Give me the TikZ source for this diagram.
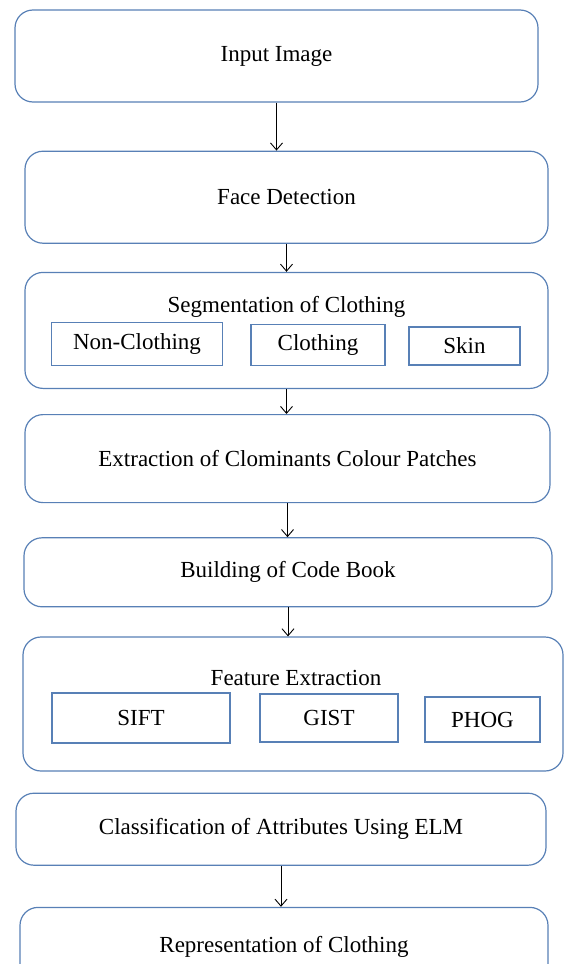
\documentclass[tikz,border=0pt]{standalone}
\usepackage{fontspec}
\setmainfont{Liberation Serif}
\usetikzlibrary{positioning,arrows.meta}
\definecolor{boxblue}{RGB}{88,128,182}

\begin{document}
\begin{tikzpicture}[x=1pt,y=-1pt,
    stage/.style={draw=boxblue,rounded corners=18pt,line width=1.2pt,inner sep=0pt,font=\fontsize{23}{26}\selectfont},
    part/.style={draw=boxblue,line width=1.2pt,inner sep=0pt,font=\fontsize{23}{26}\selectfont},
    caption/.style={font=\fontsize{23}{26}\selectfont},
    link/.style={-{Straight Barb[length=7pt,width=12pt]},line width=0.9pt}]
        \useasboundingbox (0,0) rectangle (564,964);

        \node[stage,minimum width=523pt,minimum height=92pt] (input) at (276.5,56) {Input Image};
        \node[stage,minimum width=523pt,minimum height=92pt] (face) [below=48pt of input,xshift=10pt] {Face Detection};
        \node[stage,minimum width=523pt,minimum height=116pt] (seg) [below=28pt of face] {};
        \node[stage,minimum width=525pt,minimum height=88pt] (patch) [below=25pt of seg,xshift=1pt] {Extraction of Clominants Colour Patches};
        \node[stage,minimum width=528pt,minimum height=69pt] (book) [below=34pt of patch,xshift=0.5pt] {Building of Code Book};
        \node[stage,minimum width=540pt,minimum height=134pt] (feat) [below=29pt of book,xshift=5pt] {};
        \node[stage,minimum width=530pt,minimum height=72pt] (elm) [below=21pt of feat,xshift=-12pt] {Classification of Attributes Using ELM};
        \node[stage,minimum width=528pt,minimum height=78pt] (rep) [below=41pt of elm,xshift=3pt] {Representation of Clothing};

        \node[caption] (segtitle) at (286.5,307) {Segmentation of Clothing};
        \node[part,minimum width=171pt,minimum height=43pt] (noncloth) at (137,344) {Non-Clothing};
        \node[part,minimum width=134pt,minimum height=41pt] (cloth) at (318,345) {Clothing};
        \node[part,minimum width=111pt,minimum height=38pt] (skin) at (464.5,346) {Skin};

        \node[caption] (feattitle) at (296,678) {Feature Extraction};
        \node[part,minimum width=178pt,minimum height=50pt] (sift) at (141,718) {SIFT};
        \node[part,minimum width=138pt,minimum height=48pt] (gist) at (329,718) {GIST};
        \node[part,minimum width=115pt,minimum height=45pt] (phog) at (482.5,719.5) {PHOG};

        \draw[link] (input.south) -- (input.south |- face.north);
        \draw[link] (face.south) -- (face.south |- seg.north);
        \draw[link] (seg.south) -- (seg.south |- patch.north);
        \draw[link] (patch.south) -- (patch.south |- book.north);
        \draw[link] (book.south) -- (book.south |- feat.north);
        \draw[link] (elm.south) -- (elm.south |- rep.north);
    \end{tikzpicture}
\end{document}
